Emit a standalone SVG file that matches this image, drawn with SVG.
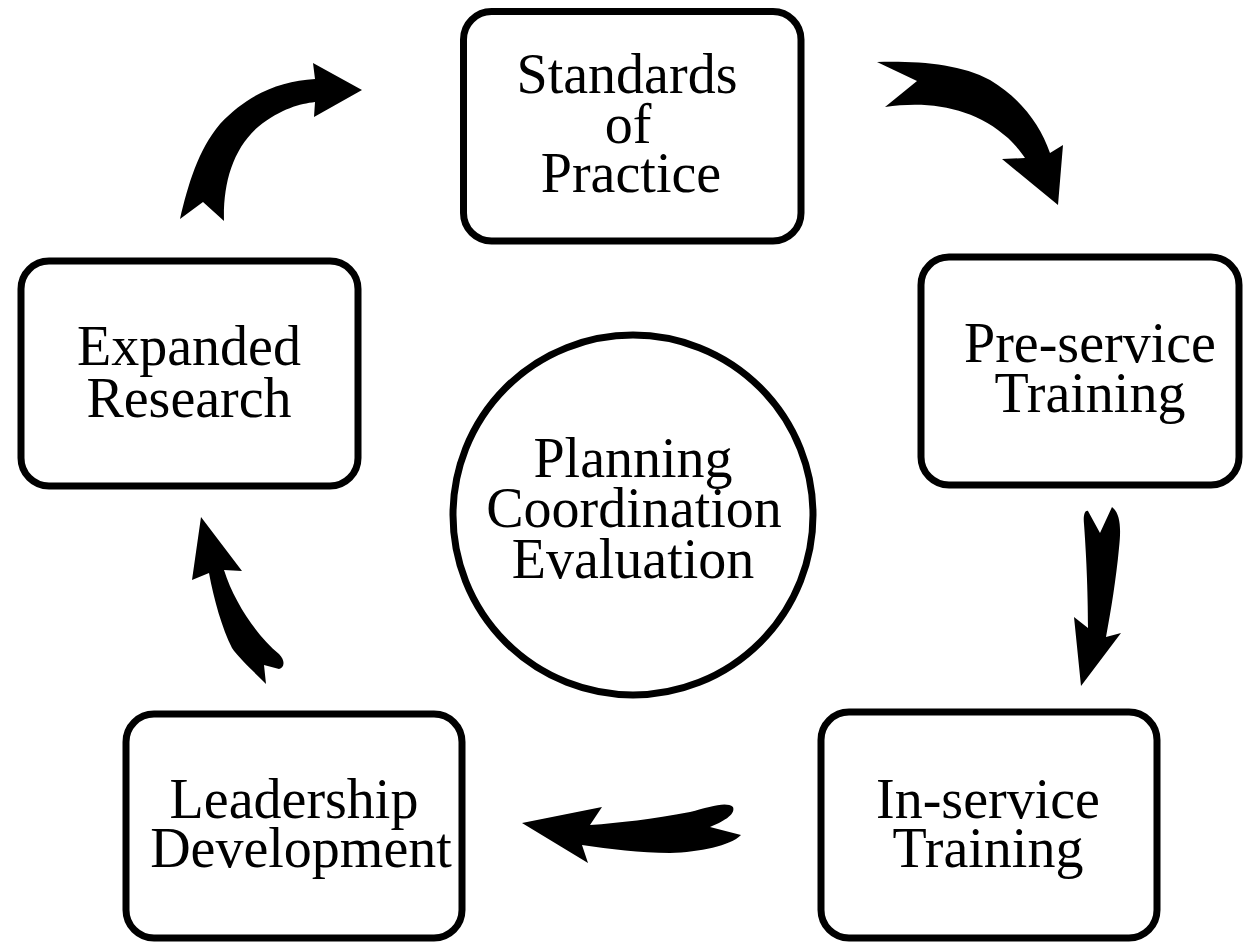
<svg xmlns="http://www.w3.org/2000/svg" width="1245" height="944" viewBox="0 0 1245 944">
  <style>
    .box { fill: #ffffff; stroke: #000000; stroke-width: 7; }
    .lbl { font-family: "Liberation Serif", "Times New Roman", serif; font-size: 56px; fill: #000000; text-anchor: middle; }
    .arrow { fill: #000000; stroke: none; }
  </style>
  <rect width="1245" height="944" fill="#ffffff"/>

  <g id="connectors">
    <!-- curved block arrows running clockwise round the hub -->
    <path class="arrow" d="M180,219 L203,202 L224,221 C223,185 232,150 258,127 C282,108 300,104 315,102 L314,117 L362,90 L313,63 L315,79 C280,81 248,94 220,124 C198,150 188,185 180,219 Z"/>
    <path class="arrow" d="M877,62 L917,81 L885,107 C930,100 975,108 1008,138 C1017,147 1021,152 1025,158 L1002,159 L1058,205 L1063,145 L1050,153 C1040,124 1020,98 990,80 C960,64 920,61 877,62 Z"/>
    <path class="arrow" d="M1088,511 L1100,533 L1112,507 C1121,514 1121,530 1119,548 C1116,580 1111,610 1106,637 L1121,633 L1081,686 L1074,617 L1088,628 C1088,590 1086,550 1084,524 C1083,515 1085,510 1088,511 Z"/>
    <path class="arrow" d="M522,823 L602,807 L590,825 C620,823 652,819 690,812 C710,807 726,801 733,807 C736,815 722,822 710,827 L741,835 C730,846 700,852 670,853 C640,853 610,849 582,845 L588,863 Z"/>
    <path class="arrow" d="M201,517 L242,571 L224,570 C234,602 257,636 279,654 C286,661 284,668 279,669 L264,665 L266,684 C252,670 238,657 232,648 C222,628 214,600 209,573 L192,580 Z"/>
  </g>

  <g id="standards">
    <rect class="box" x="463.5" y="11.5" width="337.5" height="229.5" rx="28"/>
    <text class="lbl" x="627" y="93">Standards</text>
    <text class="lbl" x="628" y="143">of</text>
    <text class="lbl" x="631" y="192">Practice</text>
  </g>

  <g id="preservice">
    <rect class="box" x="921" y="257" width="318" height="228" rx="28"/>
    <text class="lbl" x="1090" y="362">Pre-service</text>
    <text class="lbl" x="1090" y="412">Training</text>
  </g>

  <g id="inservice">
    <rect class="box" x="821" y="712" width="336" height="226" rx="28"/>
    <text class="lbl" x="988" y="818">In-service</text>
    <text class="lbl" x="988" y="867">Training</text>
  </g>

  <g id="leadership">
    <rect class="box" x="126" y="714" width="336" height="224" rx="28"/>
    <text class="lbl" x="294" y="818">Leadership</text>
    <text class="lbl" x="301" y="867">Development</text>
  </g>

  <g id="research">
    <rect class="box" x="21" y="261" width="337" height="225" rx="28"/>
    <text class="lbl" x="189" y="365">Expanded</text>
    <text class="lbl" x="189" y="417">Research</text>
  </g>

  <g id="hub">
    <circle class="box" cx="633" cy="515" r="180" stroke-width="6"/>
    <text class="lbl" x="633" y="477">Planning</text>
    <text class="lbl" x="634" y="527">Coordination</text>
    <text class="lbl" x="633" y="578">Evaluation</text>
  </g>
</svg>
